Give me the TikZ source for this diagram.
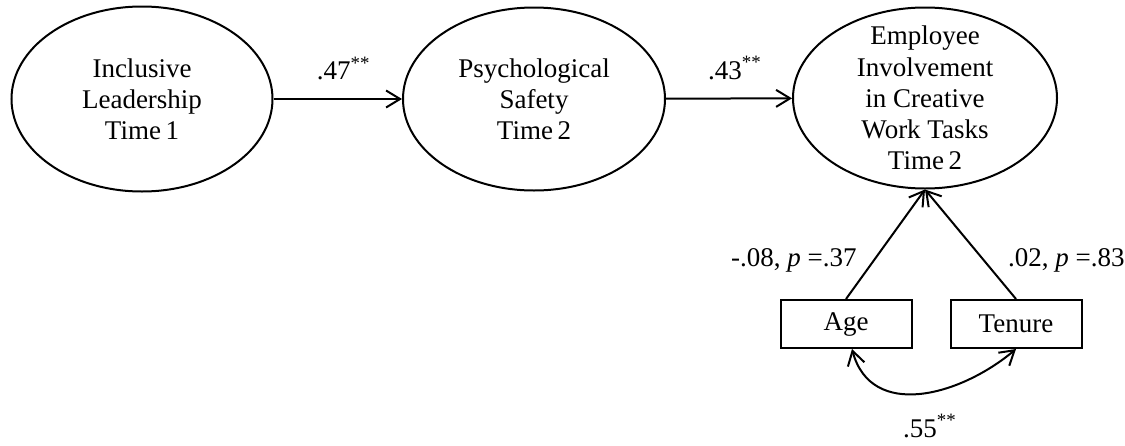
\documentclass[tikz,border=0pt]{standalone}
\usepackage{fontspec}
\setmainfont{Liberation Serif}
\usetikzlibrary{shapes.geometric,arrows.meta,positioning}
\tikzset{
  latent/.style={ellipse,draw,line width=1pt,inner xsep=0pt,inner ysep=-12pt,
    align=center,font=\fontsize{13.5}{15.6}\selectfont},
  observed/.style={rectangle,draw,line width=1pt,minimum width=65.5pt,
    minimum height=24pt,inner sep=0pt,font=\fontsize{13.5}{15.6}\selectfont},
  path/.style={line width=1pt,-{Straight Barb[length=7pt,width=8.5pt]}},
  coef/.style={font=\fontsize{13.5}{15.6}\selectfont,inner sep=2pt},
}
\begin{document}
\begin{tikzpicture}[x=0.5pt,y=-0.5pt]%%% mediation model
\useasboundingbox (0,0) rectangle (1125,445);
\node [latent,minimum width=130.5pt,minimum height=92.5pt] (lead) at (142,99) {Inclusive\\Leadership\\Time\,1};
\node [latent,minimum width=131pt,minimum height=91.5pt] (safe) at (534,99) {Psychological\\Safety\\Time\,2};
\node [latent,minimum width=132pt,minimum height=90.5pt] (inv) at (925,98) {Employee\\Involvement\\in Creative\\Work Tasks\\Time\,2};
\node [observed] (age) at (846,324) {Age};
\node [observed] (ten) at (1016,324) {Tenure};
\draw[path] (lead) -- node[coef,above=7pt,xshift=3pt]{.47\textsuperscript{**}} (safe);
\draw[path] (safe) -- node[coef,above=7pt,xshift=3pt]{.43\textsuperscript{**}} (inv);
\draw[path] (age.north) -- node[coef,left=6pt,pos=0.35]{-.08, \textit{p} =.37} (inv.south);
\draw[path] (ten.north) -- node[coef,right=9.5pt,pos=0.35]{.02, \textit{p} =.83} (inv.south);
\draw[path,{Straight Barb[length=7pt,width=8.5pt]}-{Straight Barb[length=7pt,width=8.5pt]}]
  ([xshift=3pt]age.south) to[out=-75,in=-140,looseness=1.15] node[coef,below=8pt,xshift=5pt]{.55\textsuperscript{**}} (ten.south);
\end{tikzpicture}
\end{document}
